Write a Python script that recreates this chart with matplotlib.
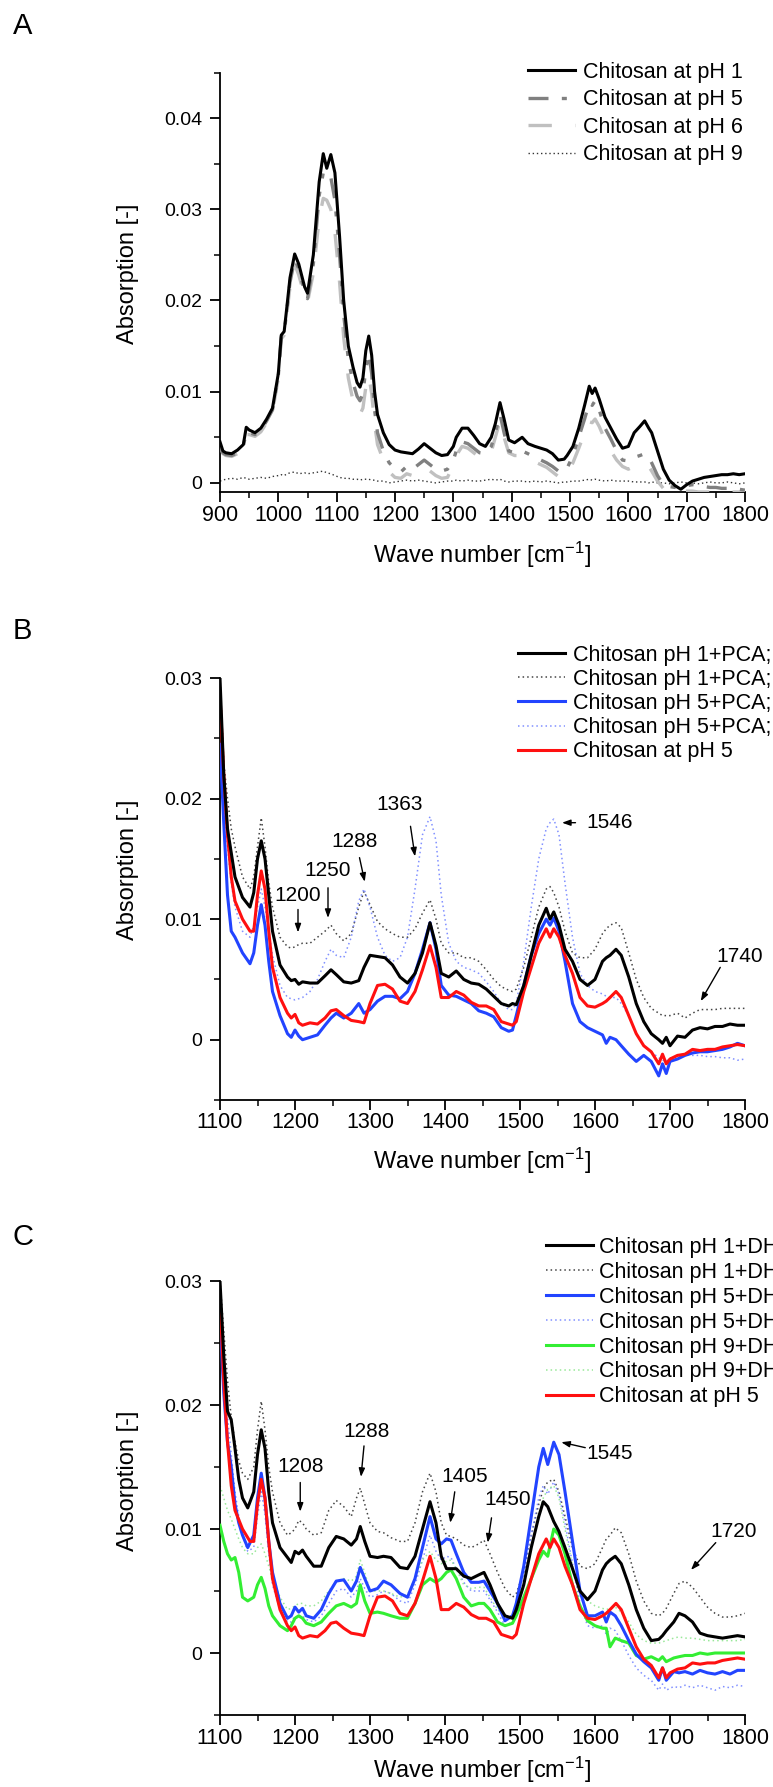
import matplotlib
matplotlib.use("Agg")
import matplotlib.pyplot as plt
from matplotlib import font_manager as fm
from matplotlib.ticker import MultipleLocator, FuncFormatter


def has_font(name):
    try:
        fm.findfont(fm.FontProperties(family=name), fallback_to_default=False)
        return True
    except Exception:
        return False


NARROW = has_font('Liberation Sans Narrow')
if NARROW:
    TF = 'Liberation Sans Narrow'
    SZ = dict(xt=18.0, yt=16.0, xl=20.5, leg=18.5, ann=18.0, lsA=0.1, lsB=-0.03, lsC=0.0, xpad=1.5)
else:
    TF = 'Liberation Sans'
    SZ = dict(xt=15.5, yt=14.0, xl=17.0, leg=15.5, ann=15.0, lsA=0.3, lsB=0.14, lsC=0.18, xpad=2.0)

plt.rcParams['font.family'] = ['Liberation Sans', 'DejaVu Sans']
plt.rcParams['mathtext.fontset'] = 'custom'
plt.rcParams['mathtext.rm'] = TF
plt.rcParams['mathtext.default'] = 'regular'

# ---------------- Panel A data ----------------
xA = [900, 905, 910, 920, 930, 940, 945, 950, 960, 970,
      980, 990, 1000, 1005, 1010, 1015, 1020, 1028, 1035, 1045,
      1050, 1060, 1070, 1077, 1083, 1090, 1097, 1105, 1112, 1120,
      1128, 1135, 1140, 1145, 1150, 1155, 1160, 1165, 1170, 1180,
      1190, 1200, 1210, 1220, 1230, 1240, 1250, 1260, 1270, 1280,
      1290, 1300, 1305, 1315, 1325, 1335, 1345, 1355, 1365, 1372,
      1380, 1387, 1395, 1405, 1418, 1428, 1440, 1450, 1460, 1470,
      1480, 1490, 1495, 1505, 1515, 1525, 1533, 1538, 1543, 1550,
      1560, 1570, 1580, 1590, 1600, 1610, 1620, 1628, 1635, 1640,
      1650, 1660, 1670, 1680, 1690, 1700, 1710, 1720, 1730, 1740,
      1750, 1760, 1770, 1780, 1790, 1800]
a_ph1 = [0.0045, 0.0035, 0.0033, 0.0032, 0.0036, 0.0042, 0.0061, 0.0058, 0.0055, 0.0060,
         0.0070, 0.0082, 0.0120, 0.0162, 0.0166, 0.0195, 0.0225, 0.0251, 0.0240, 0.0215,
         0.0208, 0.0250, 0.0330, 0.0361, 0.0345, 0.0360, 0.0340, 0.0270, 0.0200, 0.0150,
         0.0127, 0.0110, 0.0105, 0.0115, 0.0145, 0.0161, 0.0140, 0.0100, 0.0075, 0.0055,
         0.0042, 0.0036, 0.0034, 0.0033, 0.0032, 0.0037, 0.0043, 0.0038, 0.0033, 0.0030,
         0.0031, 0.0040, 0.0050, 0.0060, 0.0060, 0.0052, 0.0043, 0.0040, 0.0050, 0.0065,
         0.0088, 0.0070, 0.0047, 0.0044, 0.0050, 0.0043, 0.0040, 0.0038, 0.0036, 0.0032,
         0.0025, 0.0026, 0.0030, 0.0040, 0.0060, 0.0085, 0.0106, 0.0098, 0.0104, 0.0092,
         0.0072, 0.0060, 0.0048, 0.0038, 0.0040, 0.0055, 0.0062, 0.0068, 0.0060, 0.0055,
         0.0035, 0.0015, 0.0003, -0.0003, -0.0007, -0.0002, 0.0002, 0.0004, 0.0006, 0.0007,
         0.0008, 0.0009, 0.0009, 0.0010, 0.0009, 0.0010]
a_ph5 = [0.0040, 0.0033, 0.0031, 0.0030, 0.0033, 0.0040, 0.0056, 0.0055, 0.0053, 0.0058,
         0.0068, 0.0080, 0.0118, 0.0160, 0.0164, 0.0192, 0.0220, 0.0245, 0.0235, 0.0210,
         0.0202, 0.0240, 0.0315, 0.0340, 0.0342, 0.0335, 0.0310, 0.0250, 0.0185, 0.0135,
         0.0110, 0.0095, 0.0090, 0.0098, 0.0125, 0.0142, 0.0120, 0.0080, 0.0055, 0.0035,
         0.0022, 0.0016, 0.0012, 0.0018, 0.0015, 0.0020, 0.0025, 0.0020, 0.0015, 0.0013,
         0.0015, 0.0025, 0.0035, 0.0045, 0.0043, 0.0038, 0.0033, 0.0032, 0.0040, 0.0055,
         0.0075, 0.0055, 0.0035, 0.0033, 0.0035, 0.0032, 0.0028, 0.0025, 0.0022, 0.0018,
         0.0013, 0.0012, 0.0016, 0.0030, 0.0050, 0.0070, 0.0088, 0.0085, 0.0090, 0.0080,
         0.0060, 0.0048, 0.0035, 0.0025, 0.0024, 0.0028, 0.0030, 0.0032, 0.0028, 0.0022,
         0.0008, -0.0002, -0.0004, -0.0005, -0.0004, -0.0003, -0.0002, -0.0003, -0.0004, -0.0005,
         -0.0005, -0.0006, -0.0006, -0.0007, -0.0007, -0.0008]
a_ph6 = [0.0040, 0.0032, 0.0030, 0.0029, 0.0032, 0.0039, 0.0053, 0.0053, 0.0051, 0.0056,
         0.0066, 0.0078, 0.0115, 0.0158, 0.0162, 0.0188, 0.0215, 0.0240, 0.0228, 0.0205,
         0.0198, 0.0230, 0.0290, 0.0312, 0.0310, 0.0300, 0.0275, 0.0220, 0.0160, 0.0115,
         0.0090, 0.0078, 0.0075, 0.0082, 0.0105, 0.0118, 0.0098, 0.0065, 0.0042, 0.0025,
         0.0012, 0.0006, 0.0005, 0.0010, 0.0008, 0.0014, 0.0018, 0.0013, 0.0008, 0.0005,
         0.0006, 0.0020, 0.0030, 0.0040, 0.0038, 0.0033, 0.0028, 0.0027, 0.0034, 0.0050,
         0.0068, 0.0050, 0.0033, 0.0030, 0.0030, 0.0027, 0.0023, 0.0020, 0.0017, 0.0012,
         0.0007, 0.0005, 0.0010, 0.0022, 0.0038, 0.0055, 0.0067, 0.0066, 0.0070, 0.0062,
         0.0047, 0.0035, 0.0025, 0.0018, 0.0015, 0.0018, 0.0020, 0.0021, 0.0018, 0.0013,
         0.0002, -0.0006, -0.0008, -0.0009, -0.0009, -0.0009, -0.0009, -0.0010, -0.0010, -0.0010,
         -0.0010, -0.0010, -0.0010, -0.0010, -0.0010, -0.0010]
a_ph9 = [0.0002, 0.0003, 0.0004, 0.0005, 0.0004, 0.0006, 0.0005, 0.0004, 0.0005, 0.0006,
         0.0005, 0.0007, 0.0008, 0.0009, 0.0008, 0.0010, 0.0011, 0.0012, 0.0010, 0.0011,
         0.0010, 0.0011, 0.0012, 0.0013, 0.0011, 0.0010, 0.0008, 0.0006, 0.0005, 0.0005,
         0.0004, 0.0004, 0.0003, 0.0004, 0.0004, 0.0004, 0.0003, 0.0003, 0.0002, 0.0002,
         0.0000, 0.0001, 0.0002, 0.0003, 0.0002, 0.0003, 0.0002, 0.0001, 0.0000, 0.0001,
         0.0002, 0.0002, 0.0003, 0.0002, 0.0003, 0.0002, 0.0002, 0.0003, 0.0004, 0.0003,
         0.0004, 0.0002, 0.0001, 0.0002, 0.0002, 0.0001, 0.0002, 0.0001, 0.0002, 0.0001,
         0.0000, 0.0001, 0.0001, 0.0002, 0.0002, 0.0003, 0.0004, 0.0003, 0.0004, 0.0003,
         0.0002, 0.0003, 0.0002, 0.0002, 0.0002, 0.0001, 0.0001, 0.0001, 0.0000, 0.0001,
         0.0000, 0.0000, -0.0001, 0.0000, 0.0001, 0.0000, 0.0000, -0.0001, 0.0000, 0.0001,
         0.0000, 0.0000, 0.0001, 0.0000, -0.0001, 0.0000]

# ---------------- Panel B data ----------------
xB = [1100, 1105, 1110, 1115, 1120, 1130, 1140, 1145, 1150, 1155,
      1160, 1165, 1170, 1180, 1190, 1195, 1200, 1205, 1210, 1220,
      1230, 1240, 1248, 1255, 1265, 1275, 1285, 1292, 1300, 1310,
      1320, 1330, 1340, 1350, 1360, 1370, 1380, 1388, 1395, 1405,
      1415, 1425, 1435, 1445, 1455, 1465, 1475, 1485, 1490, 1495,
      1505, 1515, 1525, 1535, 1540, 1545, 1552, 1560, 1570, 1580,
      1590, 1600, 1610, 1615, 1620, 1628, 1635, 1645, 1655, 1665,
      1675, 1685, 1690, 1695, 1700, 1710, 1720, 1730, 1740, 1750,
      1760, 1770, 1780, 1790, 1800]
b_ph1_a = [0.0300, 0.0220, 0.0175, 0.0155, 0.0135, 0.0118, 0.0110, 0.0122, 0.0150, 0.0165,
           0.0150, 0.0120, 0.0090, 0.0062, 0.0052, 0.0049, 0.0050, 0.0046, 0.0048, 0.0047,
           0.0047, 0.0053, 0.0058, 0.0054, 0.0048, 0.0047, 0.0049, 0.0060, 0.0070, 0.0069,
           0.0068, 0.0062, 0.0052, 0.0047, 0.0055, 0.0072, 0.0097, 0.0078, 0.0055, 0.0052,
           0.0057, 0.0050, 0.0047, 0.0046, 0.0042, 0.0036, 0.0030, 0.0028, 0.0030, 0.0029,
           0.0045, 0.0070, 0.0095, 0.0109, 0.0100, 0.0106, 0.0095, 0.0075, 0.0065, 0.0050,
           0.0045, 0.0050, 0.0065, 0.0068, 0.0070, 0.0075, 0.0070, 0.0052, 0.0030, 0.0015,
           0.0005, 0.0000, -0.0003, 0.0002, -0.0005, 0.0003, 0.0002, 0.0008, 0.0010, 0.0009,
           0.0011, 0.0011, 0.0013, 0.0012, 0.0012]
b_ph1_b = [0.0300, 0.0230, 0.0200, 0.0175, 0.0160, 0.0135, 0.0125, 0.0135, 0.0160, 0.0184,
           0.0160, 0.0130, 0.0110, 0.0085, 0.0077, 0.0076, 0.0077, 0.0079, 0.0080, 0.0080,
           0.0085, 0.0090, 0.0095, 0.0088, 0.0082, 0.0088, 0.0110, 0.0123, 0.0112, 0.0098,
           0.0092, 0.0088, 0.0085, 0.0085, 0.0092, 0.0105, 0.0116, 0.0100, 0.0080, 0.0072,
           0.0072, 0.0068, 0.0068, 0.0065, 0.0058, 0.0050, 0.0044, 0.0041, 0.0040, 0.0042,
           0.0060, 0.0085, 0.0110, 0.0125, 0.0127, 0.0122, 0.0110, 0.0090, 0.0072, 0.0068,
           0.0068, 0.0075, 0.0088, 0.0092, 0.0095, 0.0097, 0.0093, 0.0072, 0.0050, 0.0035,
           0.0026, 0.0022, 0.0020, 0.0020, 0.0020, 0.0022, 0.0018, 0.0022, 0.0025, 0.0025,
           0.0025, 0.0026, 0.0026, 0.0026, 0.0026]
b_ph5_a = [0.0245, 0.0180, 0.0120, 0.0090, 0.0085, 0.0072, 0.0063, 0.0072, 0.0095, 0.0112,
           0.0095, 0.0065, 0.0040, 0.0020, 0.0005, 0.0002, 0.0008, 0.0003, 0.0000, 0.0002,
           0.0004, 0.0012, 0.0018, 0.0022, 0.0018, 0.0022, 0.0030, 0.0022, 0.0025, 0.0032,
           0.0036, 0.0036, 0.0034, 0.0040, 0.0055, 0.0075, 0.0097, 0.0075, 0.0045, 0.0037,
           0.0036, 0.0033, 0.0030, 0.0024, 0.0022, 0.0019, 0.0010, 0.0007, 0.0008, 0.0020,
           0.0045, 0.0070, 0.0088, 0.0100, 0.0095, 0.0101, 0.0090, 0.0065, 0.0030, 0.0015,
           0.0010, 0.0007, 0.0004, -0.0003, 0.0002, 0.0000, -0.0005, -0.0012, -0.0018, -0.0013,
           -0.0018, -0.0030, -0.0020, -0.0028, -0.0018, -0.0016, -0.0013, -0.0011, -0.0010, -0.0010,
           -0.0009, -0.0008, -0.0006, -0.0003, -0.0005]
b_ph5_b = [0.0260, 0.0200, 0.0160, 0.0130, 0.0110, 0.0090, 0.0085, 0.0095, 0.0110, 0.0125,
           0.0110, 0.0090, 0.0070, 0.0045, 0.0035, 0.0034, 0.0033, 0.0034, 0.0035, 0.0040,
           0.0050, 0.0065, 0.0075, 0.0070, 0.0068, 0.0085, 0.0115, 0.0125, 0.0110, 0.0085,
           0.0070, 0.0065, 0.0068, 0.0085, 0.0125, 0.0170, 0.0185, 0.0165, 0.0120, 0.0080,
           0.0065, 0.0060, 0.0058, 0.0055, 0.0048, 0.0040, 0.0030, 0.0025, 0.0025, 0.0030,
           0.0065, 0.0110, 0.0150, 0.0175, 0.0180, 0.0183, 0.0170, 0.0130, 0.0085, 0.0055,
           0.0045, 0.0040, 0.0038, 0.0036, 0.0035, 0.0035, 0.0030, 0.0020, 0.0005, -0.0005,
           -0.0010, -0.0015, -0.0017, -0.0018, -0.0015, -0.0015, -0.0012, -0.0013, -0.0013, -0.0014,
           -0.0014, -0.0015, -0.0015, -0.0017, -0.0016]
ref_ph5 = [0.0285, 0.0220, 0.0170, 0.0135, 0.0115, 0.0100, 0.0090, 0.0090, 0.0120, 0.0140,
           0.0125, 0.0090, 0.0060, 0.0035, 0.0022, 0.0018, 0.0021, 0.0014, 0.0012, 0.0014,
           0.0013, 0.0018, 0.0024, 0.0025, 0.0020, 0.0016, 0.0015, 0.0014, 0.0030, 0.0045,
           0.0046, 0.0042, 0.0032, 0.0030, 0.0040, 0.0058, 0.0078, 0.0060, 0.0035, 0.0035,
           0.0040, 0.0037, 0.0031, 0.0028, 0.0028, 0.0025, 0.0015, 0.0013, 0.0012, 0.0015,
           0.0040, 0.0060, 0.0080, 0.0092, 0.0085, 0.0092, 0.0085, 0.0070, 0.0055, 0.0035,
           0.0028, 0.0027, 0.0030, 0.0032, 0.0035, 0.0040, 0.0035, 0.0020, 0.0005, -0.0005,
           -0.0010, -0.0020, -0.0012, -0.0020, -0.0016, -0.0013, -0.0012, -0.0008, -0.0009, -0.0008,
           -0.0008, -0.0006, -0.0005, -0.0004, -0.0005]

# ---------------- Panel C data ----------------
xC = [1100, 1105, 1110, 1115, 1120, 1125, 1130, 1137, 1145, 1150,
      1155, 1160, 1165, 1170, 1180, 1190, 1195, 1200, 1205, 1210,
      1215, 1225, 1235, 1245, 1255, 1265, 1275, 1282, 1287, 1293,
      1300, 1310, 1318, 1328, 1340, 1350, 1360, 1370, 1380, 1388,
      1395, 1402, 1408, 1415, 1425, 1435, 1445, 1452, 1460, 1470,
      1480, 1490, 1495, 1505, 1515, 1525, 1531, 1537, 1545, 1552,
      1560, 1570, 1580, 1590, 1600, 1610, 1615, 1620, 1627, 1635,
      1645, 1655, 1665, 1675, 1685, 1690, 1695, 1705, 1712, 1720,
      1730, 1740, 1750, 1760, 1770, 1780, 1790, 1800]
c_ph1_a = [0.0300, 0.0240, 0.0195, 0.0188, 0.0165, 0.0140, 0.0125, 0.0117, 0.0130, 0.0160,
           0.0180, 0.0165, 0.0130, 0.0105, 0.0085, 0.0077, 0.0073, 0.0082, 0.0080, 0.0083,
           0.0078, 0.0070, 0.0070, 0.0085, 0.0094, 0.0092, 0.0087, 0.0092, 0.0102, 0.0090,
           0.0078, 0.0077, 0.0078, 0.0077, 0.0069, 0.0068, 0.0078, 0.0100, 0.0122, 0.0105,
           0.0078, 0.0068, 0.0068, 0.0068, 0.0062, 0.0060, 0.0063, 0.0065, 0.0055, 0.0040,
           0.0030, 0.0028, 0.0035, 0.0055, 0.0085, 0.0110, 0.0122, 0.0118, 0.0106, 0.0098,
           0.0085, 0.0068, 0.0050, 0.0043, 0.0050, 0.0067, 0.0072, 0.0075, 0.0078, 0.0072,
           0.0055, 0.0035, 0.0020, 0.0010, 0.0011, 0.0014, 0.0018, 0.0025, 0.0032, 0.0030,
           0.0025, 0.0016, 0.0014, 0.0013, 0.0012, 0.0013, 0.0014, 0.0013]
c_ph1_b = [0.0300, 0.0260, 0.0220, 0.0190, 0.0170, 0.0155, 0.0145, 0.0140, 0.0150, 0.0180,
           0.0203, 0.0180, 0.0150, 0.0130, 0.0105, 0.0095, 0.0097, 0.0100, 0.0107, 0.0105,
           0.0100, 0.0095, 0.0097, 0.0115, 0.0123, 0.0118, 0.0110, 0.0125, 0.0133, 0.0120,
           0.0105, 0.0098, 0.0097, 0.0093, 0.0090, 0.0090, 0.0105, 0.0130, 0.0145, 0.0130,
           0.0105, 0.0095, 0.0094, 0.0092, 0.0087, 0.0085, 0.0088, 0.0091, 0.0080, 0.0065,
           0.0052, 0.0045, 0.0048, 0.0065, 0.0095, 0.0120, 0.0132, 0.0138, 0.0140, 0.0130,
           0.0110, 0.0085, 0.0070, 0.0068, 0.0072, 0.0085, 0.0092, 0.0095, 0.0101, 0.0097,
           0.0080, 0.0058, 0.0042, 0.0032, 0.0030, 0.0032, 0.0036, 0.0048, 0.0056, 0.0058,
           0.0053, 0.0045, 0.0037, 0.0032, 0.0029, 0.0029, 0.0030, 0.0032]
c_ph5_a = [0.0270, 0.0210, 0.0170, 0.0150, 0.0120, 0.0105, 0.0095, 0.0085, 0.0095, 0.0125,
           0.0145, 0.0125, 0.0090, 0.0065, 0.0040, 0.0028, 0.0030, 0.0037, 0.0033, 0.0036,
           0.0030, 0.0028, 0.0035, 0.0048, 0.0058, 0.0059, 0.0050, 0.0058, 0.0069, 0.0060,
           0.0050, 0.0052, 0.0058, 0.0055, 0.0048, 0.0045, 0.0060, 0.0085, 0.0110, 0.0092,
           0.0088, 0.0092, 0.0091, 0.0080, 0.0065, 0.0057, 0.0057, 0.0058, 0.0050, 0.0040,
           0.0026, 0.0030, 0.0040, 0.0070, 0.0110, 0.0150, 0.0165, 0.0152, 0.0170, 0.0160,
           0.0130, 0.0090, 0.0050, 0.0030, 0.0030, 0.0033, 0.0025, 0.0033, 0.0030, 0.0022,
           0.0010, -0.0001, -0.0007, -0.0012, -0.0022, -0.0012, -0.0022, -0.0015, -0.0016, -0.0015,
           -0.0017, -0.0014, -0.0016, -0.0017, -0.0015, -0.0017, -0.0014, -0.0014]
c_ph5_b = [0.0270, 0.0230, 0.0190, 0.0160, 0.0130, 0.0110, 0.0095, 0.0082, 0.0085, 0.0110,
           0.0130, 0.0112, 0.0080, 0.0055, 0.0035, 0.0025, 0.0025, 0.0030, 0.0028, 0.0030,
           0.0027, 0.0025, 0.0030, 0.0040, 0.0050, 0.0052, 0.0045, 0.0050, 0.0060, 0.0052,
           0.0045, 0.0047, 0.0050, 0.0048, 0.0042, 0.0040, 0.0055, 0.0075, 0.0095, 0.0082,
           0.0075, 0.0078, 0.0077, 0.0068, 0.0057, 0.0050, 0.0050, 0.0050, 0.0043, 0.0033,
           0.0022, 0.0025, 0.0033, 0.0060, 0.0095, 0.0125, 0.0135, 0.0128, 0.0138, 0.0128,
           0.0105, 0.0072, 0.0040, 0.0022, 0.0020, 0.0022, 0.0015, 0.0020, 0.0018, 0.0010,
           -0.0002, -0.0012, -0.0018, -0.0022, -0.0030, -0.0025, -0.0030, -0.0027, -0.0028, -0.0026,
           -0.0028, -0.0026, -0.0028, -0.0030, -0.0027, -0.0028, -0.0026, -0.0027]
c_ph9_a = [0.0103, 0.0090, 0.0080, 0.0075, 0.0077, 0.0065, 0.0045, 0.0042, 0.0045, 0.0055,
           0.0061, 0.0052, 0.0038, 0.0030, 0.0022, 0.0018, 0.0022, 0.0028, 0.0030, 0.0028,
           0.0024, 0.0022, 0.0025, 0.0032, 0.0038, 0.0040, 0.0037, 0.0040, 0.0055, 0.0042,
           0.0032, 0.0033, 0.0032, 0.0030, 0.0028, 0.0028, 0.0040, 0.0055, 0.0060, 0.0057,
           0.0060, 0.0065, 0.0067, 0.0060, 0.0045, 0.0038, 0.0040, 0.0040, 0.0035, 0.0025,
           0.0022, 0.0024, 0.0030, 0.0045, 0.0060, 0.0075, 0.0082, 0.0078, 0.0100, 0.0095,
           0.0080, 0.0055, 0.0038, 0.0026, 0.0022, 0.0020, 0.0020, 0.0005, 0.0012, 0.0010,
           0.0008, -0.0002, -0.0005, -0.0003, -0.0006, -0.0003, -0.0007, -0.0004, -0.0003, -0.0002,
           -0.0002, 0.0000, -0.0001, 0.0000, 0.0000, 0.0000, 0.0000, 0.0000]
c_ph9_b = [0.0135, 0.0125, 0.0115, 0.0108, 0.0100, 0.0092, 0.0085, 0.0080, 0.0080, 0.0085,
           0.0088, 0.0080, 0.0070, 0.0060, 0.0045, 0.0035, 0.0036, 0.0038, 0.0040, 0.0040,
           0.0038, 0.0038, 0.0042, 0.0050, 0.0058, 0.0060, 0.0058, 0.0062, 0.0075, 0.0065,
           0.0050, 0.0050, 0.0050, 0.0048, 0.0045, 0.0047, 0.0060, 0.0075, 0.0082, 0.0075,
           0.0072, 0.0074, 0.0075, 0.0068, 0.0055, 0.0052, 0.0053, 0.0053, 0.0045, 0.0035,
           0.0030, 0.0030, 0.0035, 0.0055, 0.0085, 0.0110, 0.0125, 0.0132, 0.0135, 0.0125,
           0.0100, 0.0070, 0.0050, 0.0042, 0.0038, 0.0036, 0.0035, 0.0036, 0.0037, 0.0033,
           0.0025, 0.0015, 0.0010, 0.0008, 0.0008, 0.0009, 0.0010, 0.0012, 0.0013, 0.0012,
           0.0012, 0.0011, 0.0010, 0.0010, 0.0010, 0.0010, 0.0010, 0.0011]

# ---------------- labels / annotations ----------------
labels_A = ["Chitosan at pH 1", "Chitosan at pH 5", "Chitosan at pH 6", "Chitosan at pH 9"]
labels_B = ["Chitosan pH 1+PCA;", "Chitosan pH 1+PCA;", "Chitosan pH 5+PCA;",
            "Chitosan pH 5+PCA;", "Chitosan at pH 5"]
labels_C = ["Chitosan pH 1+DHA;", "Chitosan pH 1+DHA;", "Chitosan pH 5+DHA;",
            "Chitosan pH 5+DHA;", "Chitosan pH 9+DHA;", "Chitosan pH 9+DHA;", "Chitosan at pH 5"]

annB_labels = ['1200', '1250', '1288', '1363', '1546', '1740']
annB_text = [(1204, 0.0120), (1244, 0.0140), (1280, 0.0164), (1340, 0.0195), (1620, 0.0180), (1793, 0.0069)]
annB_tail = [(1204, 0.0108), (1244, 0.0126), (1286, 0.0151), (1354, 0.0177), (1574, 0.0180), (1767, 0.0060)]
annB_tip = [(1204, 0.0089), (1244, 0.0101), (1293, 0.0131), (1360, 0.0152), (1556, 0.0180), (1741, 0.0032)]

annC_labels = ['1208', '1288', '1405', '1450', '1545', '1720']
annC_text = [(1207, 0.0150), (1296, 0.0179), (1426, 0.0142), (1484, 0.0124), (1619, 0.0161), (1785, 0.0098)]
annC_tail = [(1207, 0.01375), (1292, 0.0167), (1413, 0.0130), (1462, 0.0109), (1587, 0.01656), (1761, 0.0089)]
annC_tip = [(1207, 0.0114), (1288, 0.0142), (1407, 0.0105), (1457, 0.0089), (1555, 0.0170), (1728, 0.0067)]

# ---------------- styles ----------------
BLACK = '#000000'
DOT_BLACK = '#444444'
BLUE = '#2244ff'
DOT_BLUE = '#8090ff'
RED = '#ff1010'
GREEN = '#33ee33'
DOT_GREEN = '#99e899'
LW = 2.2
DOT = (0, (1.0, 2.0))

W, H = 773, 1787
fig = plt.figure(figsize=(W / 100, H / 100), dpi=100)


def px_axes(left, top, right, bottom):
    return fig.add_axes([left / W, 1 - bottom / H, (right - left) / W, (bottom - top) / H])


axA = px_axes(220, 72.5, 745, 492)
axB = px_axes(220, 678, 745, 1100)
axC = px_axes(220, 1281, 745, 1715)

yfmt = FuncFormatter(lambda v, p: '0' if abs(v) < 1e-9 else f'{v:.2f}')


def style(ax, xlim, ylim, ymaj, xlab_off, h_px, ylab_y):
    ax.set_xlim(*xlim)
    ax.set_ylim(*ylim)
    for s in ('top', 'right'):
        ax.spines[s].set_visible(False)
    for s in ('left', 'bottom'):
        ax.spines[s].set_linewidth(1.3)
    ax.xaxis.set_major_locator(MultipleLocator(100))
    ax.xaxis.set_minor_locator(MultipleLocator(50))
    ax.yaxis.set_major_locator(MultipleLocator(ymaj))
    ax.yaxis.set_minor_locator(MultipleLocator(ymaj / 2))
    ax.yaxis.set_major_formatter(yfmt)
    ax.tick_params(which='major', direction='out', length=7, width=1.3)
    ax.tick_params(which='minor', direction='out', length=4, width=1.1)
    ax.tick_params(axis='x', which='major', labelsize=SZ['xt'], pad=SZ['xpad'])
    ax.tick_params(axis='y', which='major', labelsize=SZ['yt'], pad=6)
    for t in ax.get_xticklabels() + ax.get_yticklabels():
        t.set_fontfamily(TF)
    ax.set_xlabel('Wave number [cm$^{-1}$]', fontsize=SZ['xl'], fontfamily=TF, va='center')
    ax.xaxis.set_label_coords(0.5, -xlab_off / h_px)
    ax.set_ylabel('Absorption [-]', fontsize=17)
    ax.yaxis.set_label_coords(-0.155, ylab_y)


def add_legend(ax, handles, labels, lx, ty, hpad, spacing):
    return ax.legend(handles, labels, loc='upper left', bbox_to_anchor=(lx / W, 1 - ty / H),
                     bbox_transform=fig.transFigure, frameon=False, borderpad=0, borderaxespad=0,
                     handlelength=2.2, handletextpad=hpad, labelspacing=spacing,
                     prop=fm.FontProperties(family=TF, size=SZ['leg']))


def annotate(ax, labs, texts, tails, tips):
    for lab, t, tl, tp in zip(labs, texts, tails, tips):
        ax.text(t[0], t[1], lab, ha='center', va='center', fontsize=SZ['ann'], fontfamily=TF)
        ax.annotate('', xy=tp, xytext=tl,
                    arrowprops=dict(arrowstyle='-|>,head_length=0.5,head_width=0.18', color='black',
                                    lw=1.0, shrinkA=0, shrinkB=0))


# Panel A
lA = [axA.plot(xA, a_ph1, color=BLACK, lw=LW, zorder=5)[0],
      axA.plot(xA, a_ph5, color='#808080', lw=2.4, dashes=(6, 4, 1.5, 4, 1.5, 4), zorder=4)[0],
      axA.plot(xA, a_ph6, color='#c0c0c0', lw=2.4, dashes=(7, 7), zorder=3)[0],
      axA.plot(xA, a_ph9, color='#333333', lw=1.0, linestyle=DOT, zorder=2)[0]]
style(axA, (900, 1800), (-0.001, 0.045), 0.01, 63, 419.5, 0.52)
add_legend(axA, lA, labels_A, 528, 62, 0.35, SZ['lsA'])

# Panel B
b_dot1 = axB.plot(xB, b_ph1_b, color=DOT_BLACK, lw=1.1, linestyle=DOT, zorder=2)[0]
b_dot5 = axB.plot(xB, b_ph5_b, color=DOT_BLUE, lw=1.1, linestyle=DOT, zorder=2)[0]
b_sol5 = axB.plot(xB, b_ph5_a, color=BLUE, lw=LW, zorder=3)[0]
b_ref = axB.plot(xB, ref_ph5, color=RED, lw=LW, zorder=4)[0]
b_sol1 = axB.plot(xB, b_ph1_a, color=BLACK, lw=LW, zorder=5)[0]
style(axB, (1100, 1800), (-0.005, 0.030), 0.01, 61, 422, 0.545)
add_legend(axB, [b_sol1, b_dot1, b_sol5, b_dot5, b_ref], labels_B, 518, 645, 0.35, SZ['lsB'])
annotate(axB, annB_labels, annB_text, annB_tail, annB_tip)

# Panel C
c_dot1 = axC.plot(xC, c_ph1_b, color=DOT_BLACK, lw=1.1, linestyle=DOT, zorder=2)[0]
c_dot5 = axC.plot(xC, c_ph5_b, color=DOT_BLUE, lw=1.1, linestyle=DOT, zorder=2)[0]
c_dot9 = axC.plot(xC, c_ph9_b, color=DOT_GREEN, lw=1.1, linestyle=DOT, zorder=2)[0]
c_sol9 = axC.plot(xC, c_ph9_a, color=GREEN, lw=LW, zorder=3)[0]
c_sol5 = axC.plot(xC, c_ph5_a, color=BLUE, lw=LW, zorder=3)[0]
c_ref = axC.plot(xB, ref_ph5, color=RED, lw=LW, zorder=4)[0]
c_sol1 = axC.plot(xC, c_ph1_a, color=BLACK, lw=LW, zorder=5)[0]
style(axC, (1100, 1800), (-0.005, 0.030), 0.01, 55, 434, 0.54)
add_legend(axC, [c_sol1, c_dot1, c_sol5, c_dot5, c_sol9, c_dot9, c_ref], labels_C, 546, 1237, 0.26,
           SZ['lsC'])
annotate(axC, annC_labels, annC_text, annC_tail, annC_tip)

# panel letters
fig.text(13 / W, 1 - 34 / H, 'A', fontsize=21, va='baseline', ha='left')
fig.text(13 / W, 1 - 639 / H, 'B', fontsize=21, va='baseline', ha='left')
fig.text(13 / W, 1 - 1245 / H, 'C', fontsize=21, va='baseline', ha='left')

fig.savefig('out.png', dpi=100)
